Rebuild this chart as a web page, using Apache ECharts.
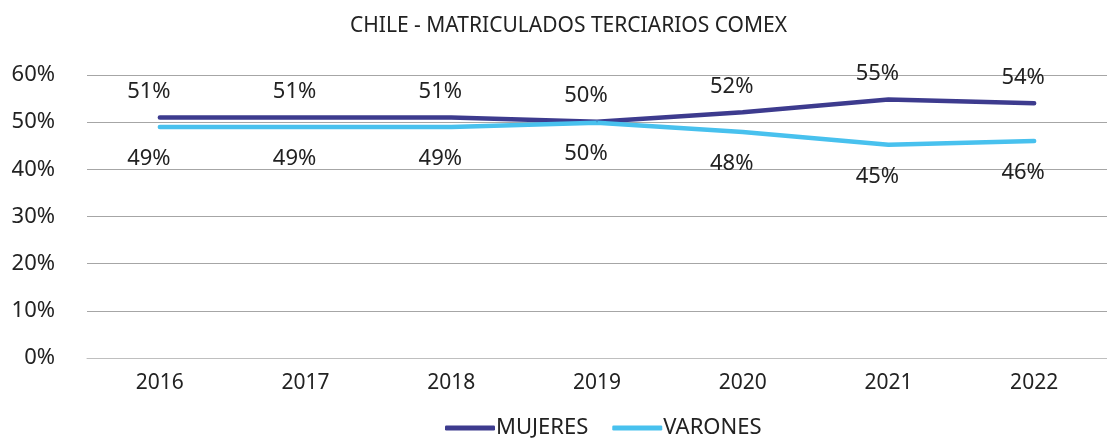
<!DOCTYPE html>
<html>
<head>
<meta charset="utf-8">
<script src="https://cdn.jsdelivr.net/npm/echarts@6/dist/echarts.min.js"></script>
<style>
  html, body { margin: 0; padding: 0; background: #fff; }
  #main { width: 1107px; height: 438px; }
</style>
</head>
<body>
<div id="main"></div>
<script>
// datos
var years = ['2016', '2017', '2018', '2019', '2020', '2021', '2022'];
var mujeres = [51.0, 51.0, 51.0, 50.1, 52.1, 54.8, 54.0];
var varones = [49.0, 49.0, 49.0, 49.9, 47.9, 45.2, 46.0];
var yTicks = [0, 10, 20, 30, 40, 50, 60];

(function () {
    var myChart = echarts.init(document.getElementById('main'));
    var font = 'Noto Sans';
    var pct = function (p) { return Math.round(p.value) + '%'; };
    option = {
        animation: false,
        title: {
            text: 'CHILE - MATRICULADOS TERCIARIOS COMEX',
            left: 345,
            top: 11,
            textStyle: { fontFamily: font, fontWeight: 'normal', fontSize: 21, color: '#222' }
        },
        legend: {
            bottom: -6,
            left: 440,
            icon: 'roundRect',
            itemWidth: 50,
            itemHeight: 5,
            itemGap: 24,
            textStyle: { fontFamily: font, fontSize: 22, color: '#222', padding: [0, 0, 0, -4] },
            data: ['MUJERES', 'VARONES']
        },
        grid: {
            left: 87,
            top: 75,
            width: 1034,
            height: 283
        },
        xAxis: {
            type: 'category',
            data: years,
            boundaryGap: true,
            axisLine: { show: true, lineStyle: { color: '#bfbfbf' } },
            axisTick: { show: false },
            axisLabel: { fontFamily: font, fontSize: 21, color: '#222', margin: 15 }
        },
        yAxis: {
            type: 'value',
            min: yTicks[0],
            max: yTicks[yTicks.length - 1],
            interval: 10,
            axisLine: { show: false },
            axisTick: { show: false },
            splitLine: { lineStyle: { color: '#a6a6a6' } },
            axisLabel: {
                fontFamily: font, fontSize: 22, color: '#222', margin: 32,
                formatter: function (v) { return v + '%'; }
            }
        },
        series: [
            {
                name: 'MUJERES',
                type: 'line',
                data: mujeres,
                symbol: 'circle',
                symbolSize: 1,
                color: '#3d3b8e',
                itemStyle: { color: '#3d3b8e' },
                lineStyle: { width: 4.5, color: '#3d3b8e', cap: 'round' },
                label: {
                    show: true,
                    position: 'top',
                    distance: 14,
                    offset: [-11, 0],
                    fontFamily: font,
                    fontSize: 22,
                    color: '#222',
                    formatter: pct
                }
            },
            {
                name: 'VARONES',
                type: 'line',
                data: varones,
                symbol: 'circle',
                symbolSize: 1,
                color: '#48c1ee',
                itemStyle: { color: '#48c1ee' },
                lineStyle: { width: 4.5, color: '#48c1ee', cap: 'round' },
                label: {
                    show: true,
                    position: 'bottom',
                    distance: 20,
                    offset: [-11, 0],
                    fontFamily: font,
                    fontSize: 22,
                    color: '#222',
                    formatter: pct
                }
            }
        ]
    };
    myChart.setOption(option);
})();
</script>
</body>
</html>
